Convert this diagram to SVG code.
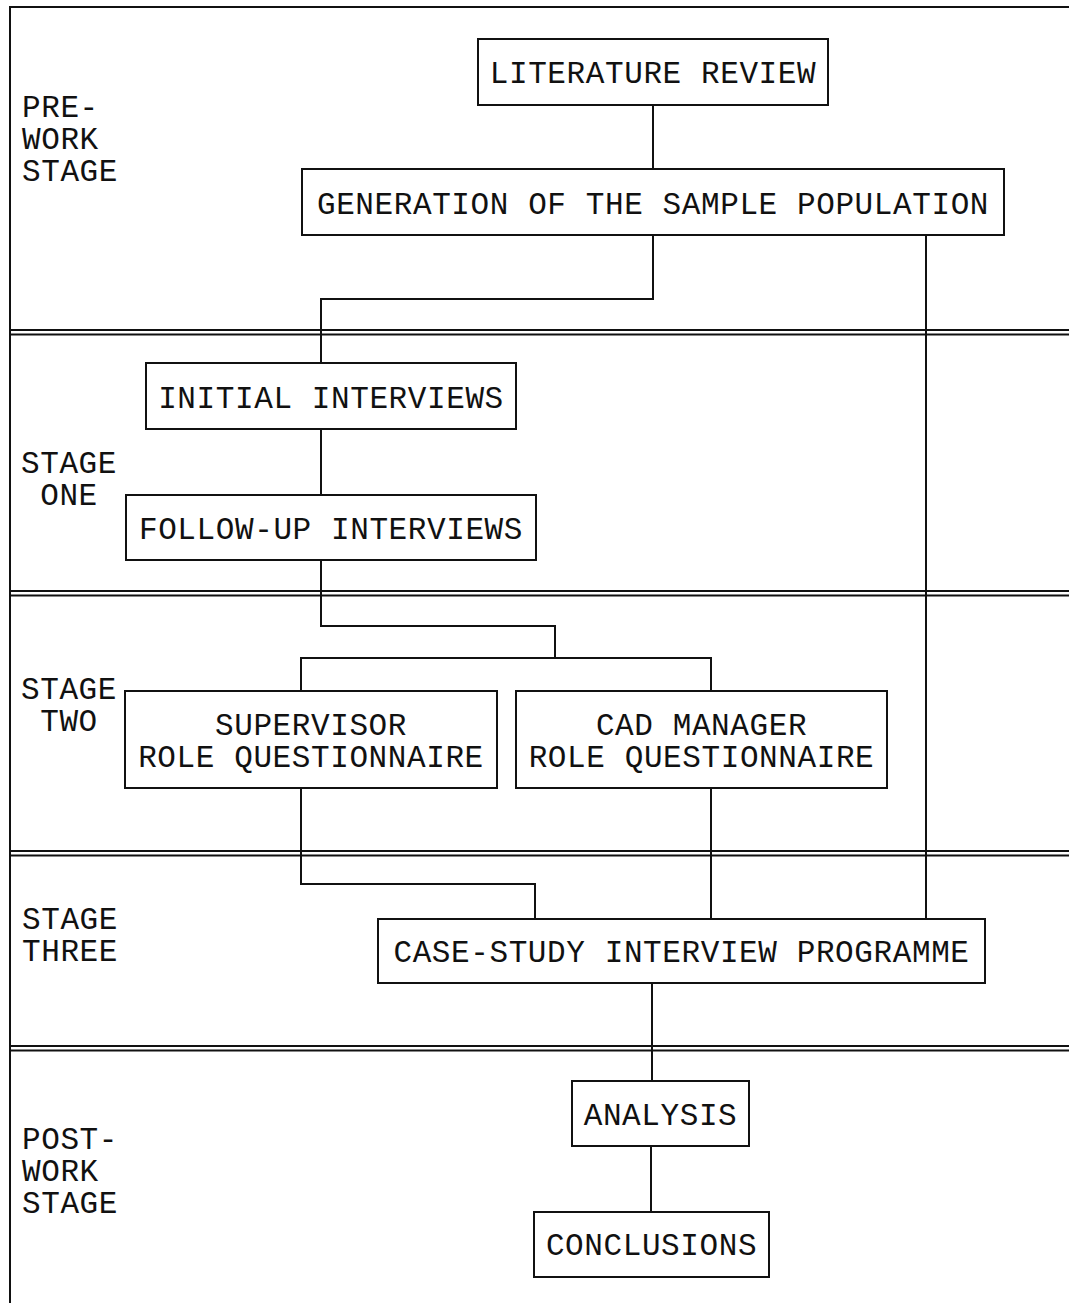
<svg xmlns="http://www.w3.org/2000/svg" width="1069" height="1303" viewBox="0 0 1069 1303">
  <style>
    .frame { stroke: #111; stroke-width: 2; fill: none; }
    .sep { stroke: #111; stroke-width: 2; fill: none; }
    .box { stroke: #111; stroke-width: 2; fill: #fff; }
    .wire { stroke: #111; stroke-width: 2; fill: none; }
    text { font-family: "Liberation Mono", "Courier New", monospace; font-size: 31px; letter-spacing: 0.6px; fill: #111; }
    .c { text-anchor: middle; }
  </style>
  <rect width="1069" height="1303" fill="#fff"/>

  <!-- outer frame: top and left edges -->
  <g id="frame">
    <path class="frame" d="M10,1303 V7 H1069"/>
  </g>

  <!-- stage separators (double rules) -->
  <g id="separators">
    <path class="sep" d="M10,330 H1069 M10,334.5 H1069"/>
    <path class="sep" d="M10,591 H1069 M10,595.5 H1069"/>
    <path class="sep" d="M10,851 H1069 M10,855.5 H1069"/>
    <path class="sep" d="M10,1046 H1069 M10,1050.5 H1069"/>
  </g>

  <!-- stage labels -->
  <g id="stage-labels">
    <text x="22" y="117"><tspan x="22">PRE-</tspan><tspan x="22" dy="32">WORK</tspan><tspan x="22" dy="32">STAGE</tspan></text>
    <text x="69" y="473" class="c"><tspan x="69">STAGE</tspan><tspan x="69" dy="32">ONE</tspan></text>
    <text x="69" y="699" class="c"><tspan x="69">STAGE</tspan><tspan x="69" dy="32">TWO</tspan></text>
    <text x="22" y="929"><tspan x="22">STAGE</tspan><tspan x="22" dy="32">THREE</tspan></text>
    <text x="22" y="1149"><tspan x="22">POST-</tspan><tspan x="22" dy="32">WORK</tspan><tspan x="22" dy="32">STAGE</tspan></text>
  </g>

  <!-- connectors -->
  <g id="connectors">
    <path class="wire" d="M653,105 V169"/>
    <path class="wire" d="M653,235 V299 H321 V363"/>
    <path class="wire" d="M926,235 V919"/>
    <path class="wire" d="M321,429 V495"/>
    <path class="wire" d="M321,560 V626 H555 V658"/>
    <path class="wire" d="M301,691 V658 H711 V691"/>
    <path class="wire" d="M301,788 V884 H535 V919"/>
    <path class="wire" d="M711,788 V919"/>
    <path class="wire" d="M652,983 V1081"/>
    <path class="wire" d="M651,1146 V1212"/>
  </g>

  <!-- nodes -->
  <g id="literature-review">
    <rect class="box" x="478" y="39" width="350" height="66"/>
    <text x="653" y="83" class="c">LITERATURE REVIEW</text>
  </g>
  <g id="sample-population">
    <rect class="box" x="302" y="169" width="702" height="66"/>
    <text x="653" y="213.5" class="c">GENERATION OF THE SAMPLE POPULATION</text>
  </g>
  <g id="initial-interviews">
    <rect class="box" x="146" y="363" width="370" height="66"/>
    <text x="331" y="407.5" class="c">INITIAL INTERVIEWS</text>
  </g>
  <g id="follow-up-interviews">
    <rect class="box" x="126" y="495" width="410" height="65"/>
    <text x="331" y="539" class="c">FOLLOW-UP INTERVIEWS</text>
  </g>
  <g id="supervisor-questionnaire">
    <rect class="box" x="125" y="691" width="372" height="97"/>
    <text x="311" y="735" class="c"><tspan x="311">SUPERVISOR</tspan><tspan x="311" dy="32">ROLE QUESTIONNAIRE</tspan></text>
  </g>
  <g id="cad-manager-questionnaire">
    <rect class="box" x="516" y="691" width="371" height="97"/>
    <text x="701.5" y="735" class="c"><tspan x="701.5">CAD MANAGER</tspan><tspan x="701.5" dy="32">ROLE QUESTIONNAIRE</tspan></text>
  </g>
  <g id="case-study-programme">
    <rect class="box" x="378" y="919" width="607" height="64"/>
    <text x="681.5" y="962" class="c">CASE-STUDY INTERVIEW PROGRAMME</text>
  </g>
  <g id="analysis">
    <rect class="box" x="572" y="1081" width="177" height="65"/>
    <text x="660.5" y="1124.5" class="c">ANALYSIS</text>
  </g>
  <g id="conclusions">
    <rect class="box" x="534" y="1212" width="235" height="65"/>
    <text x="651.5" y="1255" class="c">CONCLUSIONS</text>
  </g>
</svg>
